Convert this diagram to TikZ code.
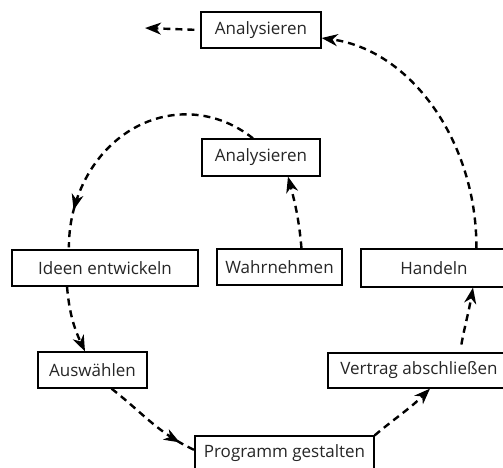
\documentclass[tikz,border=0pt]{standalone}
\usepackage{fontspec}
\setmainfont{Open Sans}
\usetikzlibrary{arrows.meta,decorations.markings}
\begin{document}
\begin{tikzpicture}[x=1pt,y=1pt,
  stage/.style={draw=black,line width=1.2pt,fill=white,inner sep=0pt,
    font=\fontsize{17}{20}\selectfont,text=black!85},
  flow/.style={line width=2.4pt,dash pattern=on 7pt off 5pt,-{Stealth[length=16pt,width=12pt,inset=5pt]}},
  midflow/.style={line width=2.4pt,dash pattern=on 7pt off 5pt,
    postaction={decorate},
    decoration={markings,mark=at position #1 with
      {\arrow[line width=1pt]{Stealth[length=16pt,width=12pt,inset=5pt]}}}}
]
\useasboundingbox (0,0) rectangle (503,-467);
\clip (0,0) rectangle (503,-467);

% process stages
\node[stage,minimum width=120pt,minimum height=36pt] (an1) at (261,-30) {Analysieren};
\node[stage,minimum width=118pt,minimum height=37pt] (an2) at (261,-157.5) {Analysieren};
\node[stage,minimum width=186pt,minimum height=36pt] (ideen) at (105,-268) {Ideen entwickeln};
\node[stage,minimum width=125pt,minimum height=36pt] (wahr) at (279.5,-267) {Wahrnehmen};
\node[stage,minimum width=146pt,minimum height=38pt] (handeln) at (434,-268) {Handeln};
\node[stage,minimum width=109pt,minimum height=36pt] (ausw) at (92.5,-370) {Auswählen};
\node[stage,minimum width=182pt,minimum height=35pt] (vertrag) at (419,-370.5) {Vertrag abschließen};
\node[stage,minimum width=179pt,minimum height=34pt] (prog) at (284.5,-453) {Programm gestalten};

% open end of the outer cycle
\coordinate (exit) at (145,-28);

% connectors
\draw[flow,shorten <=6pt] (an1.west) -- (exit);
\draw[flow] ([xshift=116pt]handeln.north west)
  .. controls (477,-142) and (411,-50) .. ([yshift=-8pt]an1.east);
\draw[midflow=0.86] ([xshift=-8pt]an2.north)
  arc[start angle=55,end angle=180,x radius=117pt,y radius=133pt];
\draw[flow] ([xshift=22pt]wahr.north) to[out=95,in=-75] ([xshift=27pt]an2.south);
\draw[flow] ([xshift=-38pt]ideen.south) to[out=-85,in=115] ([xshift=-7.5pt]ausw.north);
\draw[midflow=0.84] ([xshift=19pt]ausw.south) to[out=-38,in=155] ([yshift=3pt]prog.west);
\draw[flow] (prog.north east) to[out=40,in=225] ([xshift=11pt]vertrag.south);
\draw[flow,shorten <=8pt] ([xshift=41pt]vertrag.north) to[out=80,in=-100] ([xshift=39pt]handeln.south);
\end{tikzpicture}
\end{document}
